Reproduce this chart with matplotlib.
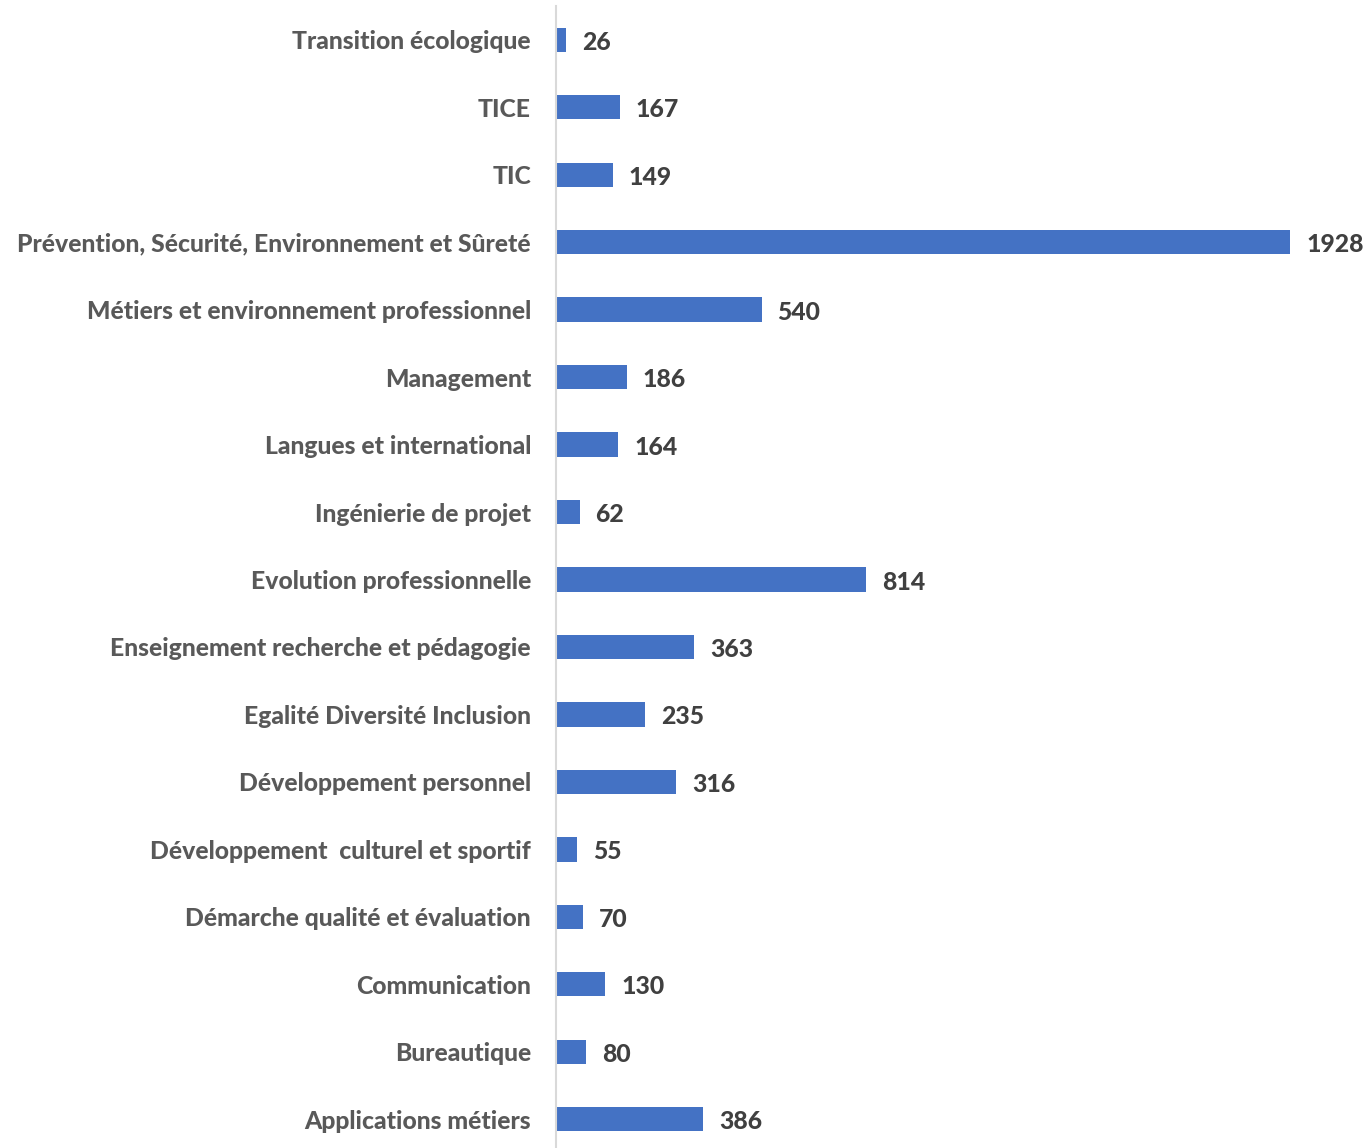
import matplotlib
matplotlib.use("Agg")
import matplotlib.pyplot as plt

categories = [
    "Applications métiers",
    "Bureautique",
    "Communication",
    "Démarche qualité et évaluation",
    "Développement  culturel et sportif",
    "Développement personnel",
    "Egalité Diversité Inclusion",
    "Enseignement recherche et pédagogie",
    "Evolution professionnelle",
    "Ingénierie de projet",
    "Langues et international",
    "Management",
    "Métiers et environnement professionnel",
    "Prévention, Sécurité, Environnement et Sûreté",
    "TIC",
    "TICE",
    "Transition écologique",
]
values = [386, 80, 130, 70, 55, 316, 235, 363, 814, 62, 164, 186, 540, 1928, 149, 167, 26]

BAR_COLOR = "#4472C4"
TEXT_COLOR = "#595959"
LABEL_COLOR = "#404040"

plt.rcParams["font.family"] = ["Lato", "DejaVu Sans"]

W, H = 1366, 1148
fig = plt.figure(figsize=(W / 100, H / 100), dpi=100)

left_px, right_px = 556, 1352
top_px, bottom_px = 6, 1153
ax = fig.add_axes([left_px / W, (H - bottom_px) / H,
                   (right_px - left_px) / W, (bottom_px - top_px) / H])

y = list(range(len(categories)))
ax.barh(y, values, height=0.36, color=BAR_COLOR)

# x scale: 1928 ends at pixel 1290
px_per_unit = (1290 - left_px) / 1928
ax.set_xlim(0, (right_px - left_px) / px_per_unit)
ax.set_ylim(-0.5, len(categories) - 0.5)

FS = 17.8
for yi, v in zip(y, values):
    ax.annotate(f"{v}", xy=(v, yi), xytext=(16, -2.5), textcoords="offset pixels",
                ha="left", va="center", fontsize=FS, fontweight="black",
                color=LABEL_COLOR)

ax.set_yticks(y)
ax.set_yticklabels(categories, fontsize=FS, fontweight="black", color=TEXT_COLOR)
ax.tick_params(axis="y", length=0, pad=18)
ax.set_xticks([])

for s in ["top", "right", "bottom"]:
    ax.spines[s].set_visible(False)
ax.spines["left"].set_color("#D9D9D9")
ax.spines["left"].set_linewidth(1.5)

fig.savefig("out.png", dpi=100)
